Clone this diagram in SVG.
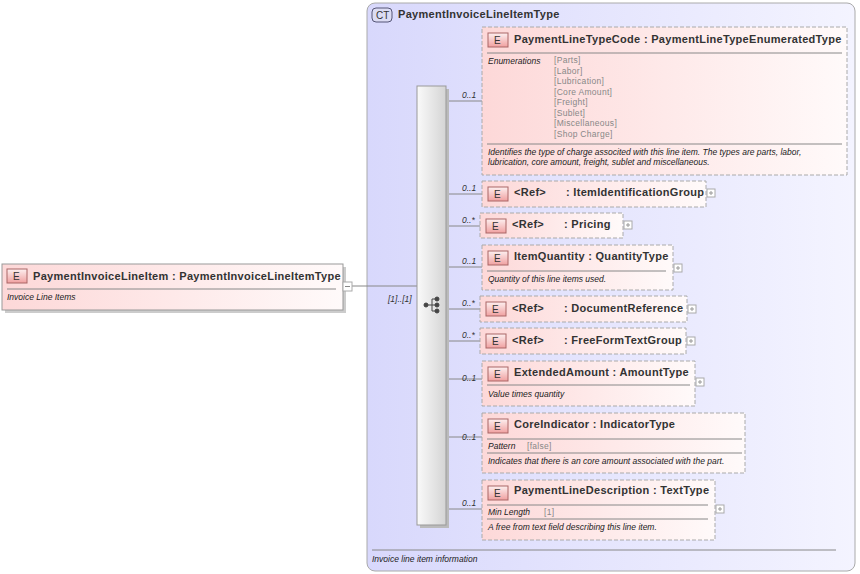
<svg xmlns="http://www.w3.org/2000/svg" width="860" height="574" viewBox="0 0 860 574">
<defs>
<linearGradient id="ct" x1="0" y1="0" x2="1" y2="0"><stop offset="0" stop-color="#d8d8fc"/><stop offset="1" stop-color="#f4f4ff"/></linearGradient>
<linearGradient id="el" x1="0" y1="0" x2="1" y2="0"><stop offset="0" stop-color="#fdd8d8"/><stop offset="1" stop-color="#fffafa"/></linearGradient>
<linearGradient id="bar" x1="0" y1="0" x2="1" y2="0"><stop offset="0" stop-color="#fafafa"/><stop offset="1" stop-color="#d4d4d4"/></linearGradient>
<linearGradient id="badge" x1="0" y1="0" x2="0" y2="1"><stop offset="0" stop-color="#fdf0f0"/><stop offset="1" stop-color="#f0a0a0"/></linearGradient>
</defs>
<style>
text{font-family:"Liberation Sans",Arial,sans-serif;fill:#222}
.n{font-size:11px;font-weight:bold;letter-spacing:0.3px;fill:#333}
.d{font-size:8.5px;font-style:italic}
.v{font-size:8.5px;fill:#888;letter-spacing:0.3px}
.m{font-size:8.5px;font-style:italic;fill:#333}
.box{fill:url(#el);stroke:#aaa;stroke-dasharray:4,2}
.sh{fill:#ccc}
.bd{fill:url(#badge);stroke:#a66}
.bt{font-size:10px;fill:#333}
.sep{stroke:#888;stroke-width:1}
.c{stroke:#888;fill:none}
.pl{fill:#fff;stroke:#aaa}
</style>
<g id="ct-box">
<rect x="367" y="3" width="488" height="568" rx="8" fill="url(#ct)" stroke="#aaa"/>
<rect x="372" y="8" width="20" height="14" rx="4" fill="#dcdcf4" stroke="#557"/>
<text x="376" y="19" class="bt">CT</text>
<text x="398" y="18" class="n">PaymentInvoiceLineItemType</text>
<line x1="372" y1="550" x2="836" y2="550" class="sep"/>
<text x="372" y="562" class="d">Invoice line item information</text>
</g>
<g id="connectors">
<path class="c" d="M352 286H417 M446 101H482 M446 194H482 M446 226H480 M446 267H482 M446 309H480 M446 341H480 M446 379H482 M446 437H482 M446 509H482"/>
<text x="388" y="302" class="m">[1]..[1]</text>
<text x="462" y="98" class="m">0..1</text>
<text x="462" y="191" class="m">0..1</text>
<text x="462" y="223" class="m">0..*</text>
<text x="462" y="264" class="m">0..1</text>
<text x="462" y="306" class="m">0..*</text>
<text x="462" y="338" class="m">0..*</text>
<text x="462" y="381" class="m">0..1</text>
<text x="462" y="440" class="m">0..1</text>
<text x="462" y="506" class="m">0..1</text>
</g>
<g id="sequence">
<rect x="420" y="89" width="29" height="439" fill="#bbb"/>
<rect x="417" y="86" width="29" height="439" fill="url(#bar)" stroke="#999"/>
<g fill="#444" stroke="#444">
<circle cx="426" cy="305" r="2"/><line x1="426" y1="305" x2="432" y2="305"/>
<path d="M432 299V311 M432 299H437 M432 305H437 M432 311H437" fill="none"/>
<circle cx="437" cy="299" r="2"/><circle cx="437" cy="305" r="2"/><circle cx="437" cy="311" r="2"/>
</g>
</g>
<g id="root">
<rect x="5" y="267" width="341" height="46" class="sh"/>
<rect x="2" y="264" width="341" height="46" fill="url(#el)" stroke="#999"/>
<rect x="7" y="269" width="20" height="14" class="bd"/><text x="13" y="280" class="bt">E</text>
<text x="33" y="280" class="n">PaymentInvoiceLineItem : PaymentInvoiceLineItemType</text>
<line x1="7" y1="289" x2="336" y2="289" class="sep"/>
<text x="7" y="300" class="d">Invoice Line Items</text>
<rect x="343" y="282" width="9" height="9" class="pl"/><line x1="345" y1="286.5" x2="350" y2="286.5" stroke="#888"/>
</g>
<g id="PaymentLineTypeCode">
<rect x="482" y="27" width="365" height="148" class="box"/>
<rect x="488" y="33" width="20" height="14" class="bd"/><text x="494" y="44" class="bt">E</text>
<text x="514" y="43" class="n">PaymentLineTypeCode : PaymentLineTypeEnumeratedType</text>
<line x1="487" y1="53" x2="842" y2="53" class="sep"/>
<text x="488" y="64" class="d">Enumerations</text>
<text class="v"><tspan x="554" y="63">[Parts]</tspan><tspan x="554" y="73.5">[Labor]</tspan><tspan x="554" y="84">[Lubrication]</tspan><tspan x="554" y="94.5">[Core Amount]</tspan><tspan x="554" y="105">[Freight]</tspan><tspan x="554" y="115.5">[Sublet]</tspan><tspan x="554" y="126">[Miscellaneous]</tspan><tspan x="554" y="136.5">[Shop Charge]</tspan></text>
<line x1="487" y1="144" x2="842" y2="144" class="sep"/>
<text x="488" y="155" class="d">Identifies the type of charge associted with this line item. The types are parts, labor,</text>
<text x="488" y="165" class="d">lubrication, core amount, freight, sublet and miscellaneous.</text>
</g>
<g id="ItemIdentificationGroup">
<rect x="482" y="181" width="224" height="26" class="box"/>
<rect x="488" y="187" width="20" height="14" class="bd"/><text x="494" y="198" class="bt">E</text>
<text x="514" y="196" class="n">&lt;Ref&gt;</text><text x="566" y="196" class="n">: ItemIdentificationGroup</text>
<rect x="707" y="189" width="8" height="8" class="pl"/><path d="M709 193H713M711 191V195" stroke="#999"/>
</g>
<g id="Pricing">
<rect x="480" y="213" width="143" height="25" class="box"/>
<rect x="486" y="219" width="20" height="14" class="bd"/><text x="492" y="230" class="bt">E</text>
<text x="512" y="228" class="n">&lt;Ref&gt;</text><text x="564" y="228" class="n">: Pricing</text>
<rect x="624" y="221" width="8" height="8" class="pl"/><path d="M626 225H630M628 223V227" stroke="#999"/>
</g>
<g id="ItemQuantity">
<rect x="482" y="245" width="191" height="45" class="box"/>
<rect x="488" y="251" width="20" height="14" class="bd"/><text x="494" y="262" class="bt">E</text>
<text x="514" y="260" class="n">ItemQuantity : QuantityType</text>
<line x1="487" y1="271" x2="666" y2="271" class="sep"/>
<text x="488" y="282" class="d">Quantity of this line items used.</text>
<rect x="674" y="264" width="8" height="8" class="pl"/><path d="M676 268H680M678 266V270" stroke="#999"/>
</g>
<g id="DocumentReference">
<rect x="480" y="296" width="207" height="26" class="box"/>
<rect x="486" y="302" width="20" height="14" class="bd"/><text x="492" y="313" class="bt">E</text>
<text x="512" y="312" class="n">&lt;Ref&gt;</text><text x="564" y="312" class="n">: DocumentReference</text>
<rect x="688" y="305" width="8" height="8" class="pl"/><path d="M690 309H694M692 307V311" stroke="#999"/>
</g>
<g id="FreeFormTextGroup">
<rect x="480" y="328" width="206" height="26" class="box"/>
<rect x="486" y="334" width="20" height="14" class="bd"/><text x="492" y="345" class="bt">E</text>
<text x="512" y="344" class="n">&lt;Ref&gt;</text><text x="564" y="344" class="n">: FreeFormTextGroup</text>
<rect x="687" y="337" width="8" height="8" class="pl"/><path d="M689 341H693M691 339V343" stroke="#999"/>
</g>
<g id="ExtendedAmount">
<rect x="482" y="361" width="213" height="45" class="box"/>
<rect x="488" y="367" width="20" height="14" class="bd"/><text x="494" y="378" class="bt">E</text>
<text x="514" y="376" class="n">ExtendedAmount : AmountType</text>
<line x1="487" y1="385" x2="690" y2="385" class="sep"/>
<text x="488" y="397" class="d">Value times quantity</text>
<rect x="696" y="378" width="8" height="8" class="pl"/><path d="M698 382H702M700 380V384" stroke="#999"/>
</g>
<g id="CoreIndicator">
<rect x="482" y="413" width="263" height="60" class="box"/>
<rect x="488" y="419" width="20" height="14" class="bd"/><text x="494" y="430" class="bt">E</text>
<text x="514" y="428" class="n">CoreIndicator : IndicatorType</text>
<line x1="487" y1="439" x2="742" y2="439" class="sep"/>
<text x="488" y="449" class="d">Pattern</text><text x="527" y="449" class="v">[false]</text>
<line x1="487" y1="453" x2="742" y2="453" class="sep"/>
<text x="488" y="464" class="d">Indicates that there is an core amount associated with the part.</text>
</g>
<g id="PaymentLineDescription">
<rect x="482" y="480" width="233" height="60" class="box"/>
<rect x="488" y="486" width="20" height="14" class="bd"/><text x="494" y="497" class="bt">E</text>
<text x="514" y="494" class="n">PaymentLineDescription : TextType</text>
<line x1="487" y1="505" x2="708" y2="505" class="sep"/>
<text x="488" y="515" class="d">Min Length</text><text x="544" y="515" class="v">[1]</text>
<line x1="487" y1="519" x2="708" y2="519" class="sep"/>
<text x="488" y="530" class="d">A free from text field describing this line item.</text>
<rect x="716" y="505" width="8" height="8" class="pl"/><path d="M718 509H722M720 507V511" stroke="#999"/>
</g>
</svg>
